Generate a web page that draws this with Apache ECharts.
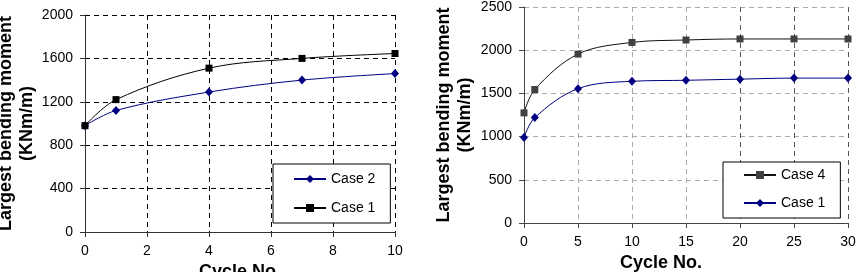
<!DOCTYPE html>
<html>
<head>
<meta charset="utf-8">
<script src="https://cdn.jsdelivr.net/npm/echarts@6/dist/echarts.min.js"></script>
<style>
  html, body { margin: 0; padding: 0; background: #fff; }
  #main { width: 858px; height: 272px; }
</style>
</head>
<body>
<div id="main"></div>
<script>
// left panel: cycles 0..10
var cyclesA = [0, 1, 4, 7, 10];
var case2A = [980, 1120, 1290, 1400, 1460];
var case1A = [980, 1220, 1510, 1600, 1645];

// right panel: cycles 0..30
var cyclesB = [0, 1, 5, 10, 15, 20, 25, 30];
var case4B = [1275, 1545, 1955, 2090, 2118, 2130, 2130, 2130];
var case1B = [990, 1220, 1555, 1640, 1652, 1665, 1677, 1677];

var yTitle = 'Largest bending moment\n(KNm/m)';
var xTitle = 'Cycle No.';

function pairs(xs, ys) {
  return xs.map(function (x, i) { return [x, ys[i]]; });
}

var chart = echarts.init(document.getElementById('main'));

var font = 'Liberation Sans, Arial, sans-serif';
var navy = '#000080';
var plain = function (v) { return String(v); };

var option = {
  backgroundColor: '#ffffff',
  animation: false,
  textStyle: { fontFamily: font },
  grid: [
    { left: 85, top: 15, width: 310, height: 217, outerBoundsMode: 'none' },
    { left: 524, top: 7, width: 324, height: 216, outerBoundsMode: 'none' }
  ],
  xAxis: [{
    gridIndex: 0, type: 'value', min: 0, max: 10, interval: 2,
    name: xTitle, nameLocation: 'middle', nameGap: 27,
    nameTextStyle: { fontSize: 18, fontWeight: 'bold', color: '#000' },
    axisLine: { lineStyle: { color: '#333', width: 1 } },
    axisTick: { length: 5, lineStyle: { color: '#333' } },
    axisLabel: { fontSize: 14, color: '#000', margin: 12, formatter: plain },
    splitLine: { show: true, lineStyle: { color: '#000', type: [5, 4], width: 1 } }
  }, {
    gridIndex: 1, type: 'value', min: 0, max: 30, interval: 5,
    name: xTitle, nameLocation: 'middle', nameGap: 31,
    nameTextStyle: { fontSize: 18, fontWeight: 'bold', color: '#000', padding: [0, 50, 0, 0] },
    axisLine: { lineStyle: { color: '#444', width: 1 } },
    axisTick: { length: 5, lineStyle: { color: '#444' } },
    axisLabel: { fontSize: 14, color: '#000', margin: 12, formatter: plain },
    splitLine: { show: true, lineStyle: { color: ['#aaa', '#aaa', '#aaa', '#aaa', '#555', '#555', '#555'], type: [5, 4], width: 1 } }
  }],
  yAxis: [{
    gridIndex: 0, type: 'value', min: 0, max: 2000, interval: 400,
    name: yTitle, nameLocation: 'middle', nameRotate: 90, nameGap: 41,
    nameTextStyle: { fontSize: 18, fontWeight: 'bold', color: '#000', lineHeight: 21 },
    axisLine: { show: true, lineStyle: { color: '#333', width: 1 } },
    axisTick: { show: true, length: 5, lineStyle: { color: '#333' } },
    axisLabel: { fontSize: 14, color: '#000', margin: 12, formatter: plain },
    splitLine: { show: true, lineStyle: { color: '#000', type: [5, 4], width: 1 } }
  }, {
    gridIndex: 1, type: 'value', min: 0, max: 2500, interval: 500,
    name: yTitle, nameLocation: 'middle', nameRotate: 90, nameGap: 48,
    nameTextStyle: { fontSize: 18, fontWeight: 'bold', color: '#000', lineHeight: 21 },
    axisLine: { show: true, lineStyle: { color: '#444', width: 1 } },
    axisTick: { show: true, length: 5, lineStyle: { color: '#444' } },
    axisLabel: { fontSize: 14, color: '#000', margin: 12, formatter: plain },
    splitLine: { show: true, lineStyle: { color: '#aaa', type: [5, 4], width: 1 } }
  }],
  legend: [{
    // left panel legend
    data: ['A|Case 2', 'A|Case 1'],
    orient: 'vertical', left: 273, top: 164,
    padding: [8, 15, 8, 20], itemGap: 15,
    itemWidth: 32, itemHeight: 10,
    backgroundColor: '#fff',
    borderColor: '#000', borderWidth: 1,
    textStyle: { fontSize: 14, color: '#000' },
    formatter: function (n) { return n.split('|')[1]; }
  }, {
    data: ['B|Case 4', 'B|Case 1'],
    orient: 'vertical', left: 723, top: 162,
    padding: [6, 15, 8, 20], itemGap: 14,
    itemWidth: 32, itemHeight: 10,
    backgroundColor: '#fff',
    borderColor: '#000', borderWidth: 1,
    textStyle: { fontSize: 14, color: '#000' },
    formatter: function (n) { return n.split('|')[1]; }
  }],
  series: [{
    name: 'A|Case 2', type: 'line', xAxisIndex: 0, yAxisIndex: 0,
    data: pairs(cyclesA, case2A), smooth: 0.35,
    symbol: 'diamond', symbolSize: [8, 9],
    lineStyle: { color: navy, width: 1 }, itemStyle: { color: navy }
  }, {
    name: 'A|Case 1', type: 'line', xAxisIndex: 0, yAxisIndex: 0,
    data: pairs(cyclesA, case1A), smooth: 0.35,
    symbol: 'rect', symbolSize: 7,
    lineStyle: { color: '#000', width: 1 }, itemStyle: { color: '#000' }
  }, {
    name: 'B|Case 4', type: 'line', xAxisIndex: 1, yAxisIndex: 1,
    data: pairs(cyclesB, case4B), smooth: 0.35,
    symbol: 'rect', symbolSize: 7,
    lineStyle: { color: '#111', width: 1 }, itemStyle: { color: '#404040' }
  }, {
    name: 'B|Case 1', type: 'line', xAxisIndex: 1, yAxisIndex: 1,
    data: pairs(cyclesB, case1B), smooth: 0.35,
    symbol: 'diamond', symbolSize: [8, 9],
    lineStyle: { color: navy, width: 1 }, itemStyle: { color: navy }
  }]
};

chart.setOption(option);
</script>
</body>
</html>
